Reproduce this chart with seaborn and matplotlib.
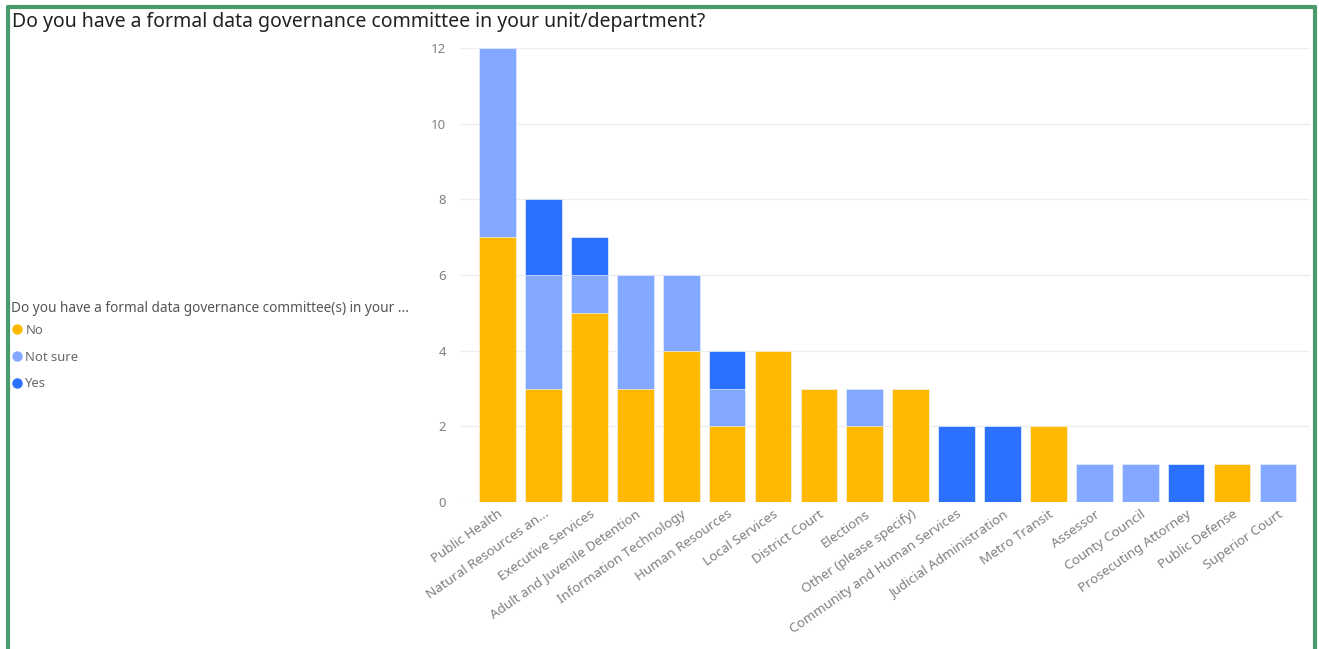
import matplotlib
matplotlib.use("Agg")
import matplotlib.pyplot as plt
from matplotlib.lines import Line2D
import numpy as np
import pandas as pd
import seaborn as sns

departments = [
    "Public Health", "Natural Resources an...", "Executive Services",
    "Adult and Juvenile Detention", "Information Technology", "Human Resources",
    "Local Services", "District Court", "Elections", "Other (please specify)",
    "Community and Human Services", "Judicial Administration", "Metro Transit",
    "Assessor", "County Council", "Prosecuting Attorney", "Public Defense",
    "Superior Court",
]
no_counts = [7, 3, 5, 3, 4, 2, 4, 3, 2, 3, 0, 0, 2, 0, 0, 0, 1, 0]
not_sure_counts = [5, 3, 1, 3, 2, 1, 0, 0, 1, 0, 0, 0, 0, 1, 1, 0, 0, 1]
yes_counts = [0, 2, 1, 0, 0, 1, 0, 0, 0, 0, 2, 2, 0, 0, 0, 1, 0, 0]
answers = ["No", "Not sure", "Yes"]
y_ticks = [0, 2, 4, 6, 8, 10, 12]

title = "Do you have a formal data governance committee in your unit/department?"
legend_title = "Do you have a formal data governance committee(s) in your ..."

colors = {"No": "#FFB900", "Not sure": "#82A9FF", "Yes": "#2B70FF"}

sns.set_theme(style="white")
plt.rcParams["font.family"] = ["Noto Sans", "DejaVu Sans"]

df = pd.DataFrame({
    "department": departments,
    "No": no_counts,
    "Not sure": not_sure_counts,
    "Yes": yes_counts,
})
# cumulative layers so each segment sits on top of the one below
df["top_no"] = df["No"]
df["top_not_sure"] = df["No"] + df["Not sure"]
df["top_yes"] = df["top_not_sure"] + df["Yes"]

W, H = 1319, 649
fig = plt.figure(figsize=(W / 100, H / 100), dpi=100)
ax = fig.add_axes([460 / W, 1 - 502 / H, (1310 - 460) / W, (502 - 48) / H])

for col, ans in [("top_yes", "Yes"), ("top_not_sure", "Not sure"), ("top_no", "No")]:
    sns.barplot(data=df, x="department", y=col, order=departments, color=colors[ans],
                saturation=1, width=0.8, ax=ax, edgecolor="white", linewidth=0.4)

ax.set_ylim(0, 12)
ax.set_xlim(-0.82, 17.7)
ax.set_yticks(y_ticks)
ax.set_xlabel("")
ax.set_ylabel("")
ax.grid(axis="y", color="#EEEEEE", linewidth=1)
ax.set_axisbelow(True)
for s in ax.spines.values():
    s.set_visible(False)
ax.tick_params(axis="y", colors="#808080", labelsize=9.5, length=0, pad=10)
ax.tick_params(axis="x", colors="#808080", labelsize=9.7, length=0, pad=4)
plt.setp(ax.get_xticklabels(), rotation=35, ha="right", rotation_mode="anchor")

fig.text(12 / W, 1 - 22 / H, title, fontsize=14, color="#222222", va="center", ha="left")

# legend heading drawn separately so its gap to the entries can be set freely
fig.text(11 / W, 1 - 308 / H, legend_title, fontsize=9.8, color="#555555", va="center", ha="left")
handles = [Line2D([], [], marker="o", linestyle="", markersize=6.5, color=colors[a]) for a in answers]
leg = fig.legend(handles, answers, loc="upper left",
                 bbox_to_anchor=(9 / W, 1 - 324 / H), frameon=False, fontsize=9.4,
                 handletextpad=0.05, labelspacing=1.05,
                 handlelength=1.2, borderpad=0, borderaxespad=0)
for t in leg.get_texts():
    t.set_color("#666666")

# green frame around the visual
frame = "#4A9B6C"
fig.add_artist(Line2D([8 / W, 8 / W], [0, 1 - 7 / H], color=frame, linewidth=3, transform=fig.transFigure))
fig.add_artist(Line2D([8 / W, 1315 / W], [1 - 7 / H, 1 - 7 / H], color=frame, linewidth=3, transform=fig.transFigure))
fig.add_artist(Line2D([1315 / W, 1315 / W], [0, 1 - 7 / H], color=frame, linewidth=3, transform=fig.transFigure))

fig.savefig("out.png", dpi=100, facecolor="white")
